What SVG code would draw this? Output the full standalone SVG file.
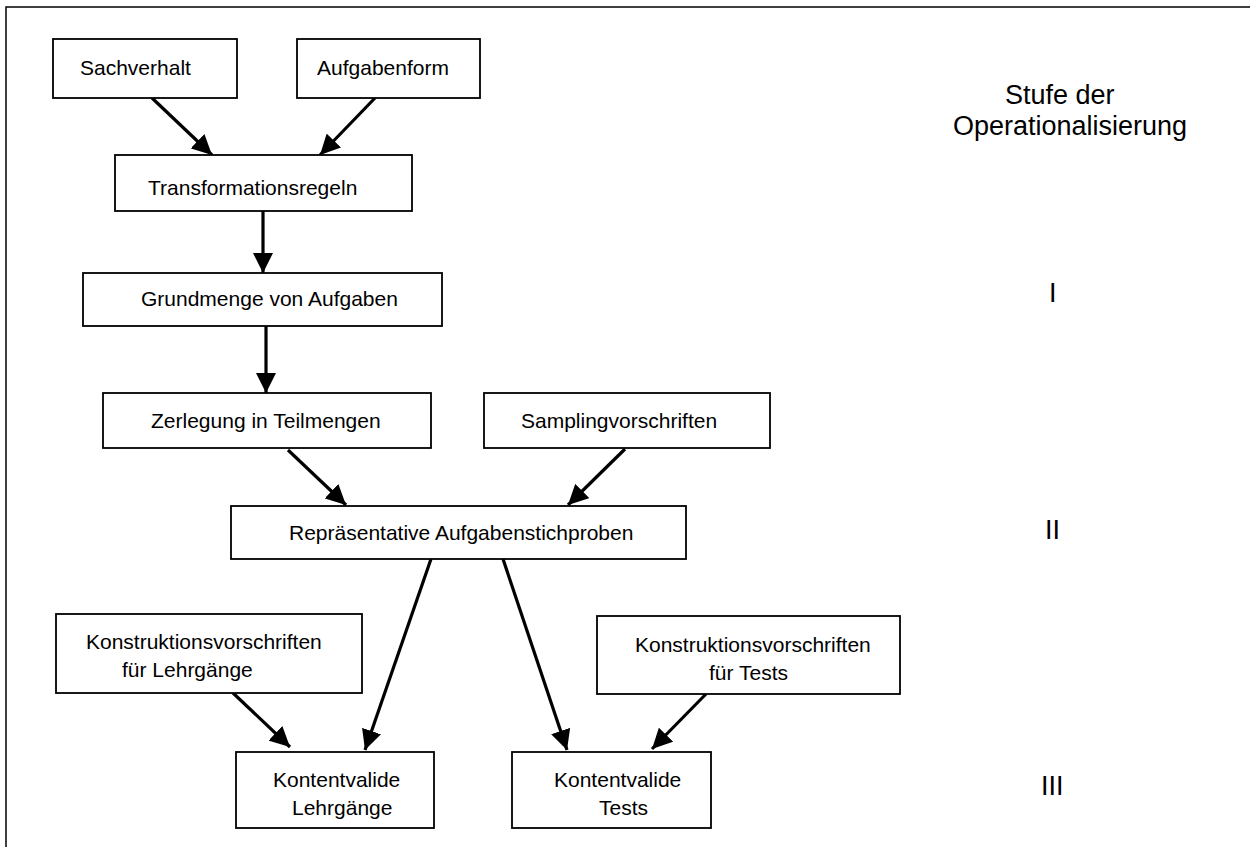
<svg xmlns="http://www.w3.org/2000/svg" width="1250" height="847" viewBox="0 0 1250 847">
<defs>
<marker id="ah" markerUnits="userSpaceOnUse" viewBox="0 0 20 20" refX="20" refY="10" markerWidth="20" markerHeight="20" orient="auto">
<path d="M0,0 L20,10 L0,20 Z" fill="#000"/>
</marker>
<style>
.box{fill:#fff;stroke:#000;stroke-width:1.8}
.t{font-family:"Liberation Sans",Arial,sans-serif;font-size:21px;fill:#000}
.lv{font-family:"Liberation Sans",Arial,sans-serif;font-size:27px;fill:#000}
.c{stroke:#000;stroke-width:3.2;fill:none;marker-end:url(#ah)}
</style>
</defs>
<rect x="0" y="0" width="1250" height="847" fill="#fff"/>
<rect x="6" y="7" width="1260" height="860" fill="none" stroke="#000" stroke-width="1.5"/>

<g id="connectors">
<line class="c" x1="152" y1="98" x2="212" y2="155"/>
<line class="c" x1="375" y1="98" x2="320" y2="155"/>
<line class="c" x1="263" y1="211" x2="263" y2="273"/>
<line class="c" x1="266" y1="326" x2="266" y2="393"/>
<line class="c" x1="288" y1="450" x2="346" y2="505"/>
<line class="c" x1="625" y1="449" x2="568" y2="505"/>
<line class="c" x1="431" y1="559" x2="365" y2="750"/>
<line class="c" x1="503" y1="559" x2="567" y2="750"/>
<line class="c" x1="233" y1="693" x2="290" y2="747"/>
<line class="c" x1="706" y1="694" x2="652" y2="749"/>
</g>

<g id="sachverhalt"><rect class="box" x="53" y="39" width="184" height="59"/><text class="t" x="80" y="75">Sachverhalt</text></g>
<g id="aufgabenform"><rect class="box" x="297" y="39" width="183" height="59"/><text class="t" x="317" y="75">Aufgabenform</text></g>
<g id="transformationsregeln"><rect class="box" x="115" y="155" width="297" height="56"/><text class="t" x="148" y="195">Transformationsregeln</text></g>
<g id="grundmenge"><rect class="box" x="83" y="273" width="359" height="53"/><text class="t" x="141" y="306">Grundmenge von Aufgaben</text></g>
<g id="zerlegung"><rect class="box" x="103" y="393" width="328" height="55"/><text class="t" x="151" y="428">Zerlegung in Teilmengen</text></g>
<g id="sampling"><rect class="box" x="484" y="393" width="286" height="55"/><text class="t" x="521" y="428">Samplingvorschriften</text></g>
<g id="repraesentative"><rect class="box" x="231" y="506" width="455" height="53"/><text class="t" x="289" y="540">Repräsentative Aufgabenstichproben</text></g>
<g id="konstr-lehrgaenge"><rect class="box" x="56" y="614" width="306" height="79"/><text class="t"><tspan x="86" y="649">Konstruktionsvorschriften</tspan><tspan x="122" y="677">für Lehrgänge</tspan></text></g>
<g id="konstr-tests"><rect class="box" x="597" y="616" width="303" height="78"/><text class="t"><tspan x="635" y="652">Konstruktionsvorschriften</tspan><tspan x="709" y="680">für Tests</tspan></text></g>
<g id="kv-lehrgaenge"><rect class="box" x="236" y="752" width="198" height="76"/><text class="t"><tspan x="273" y="787">Kontentvalide</tspan><tspan x="292" y="815">Lehrgänge</tspan></text></g>
<g id="kv-tests"><rect class="box" x="512" y="752" width="199" height="76"/><text class="t"><tspan x="554" y="787">Kontentvalide</tspan><tspan x="599" y="815">Tests</tspan></text></g>

<g id="levels">
<text class="lv"><tspan x="1005" y="104">Stufe der</tspan><tspan x="953" y="135">Operationalisierung</tspan></text>
<text class="lv" x="1049" y="302">I</text>
<text class="lv" x="1045" y="539">II</text>
<text class="lv" x="1041" y="795">III</text>
</g>
</svg>
